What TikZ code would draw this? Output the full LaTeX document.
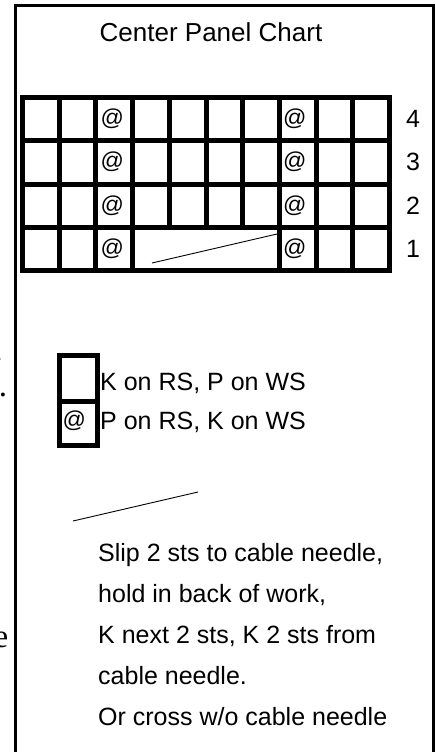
\documentclass[tikz,border=0pt]{standalone}
\usepackage{fontspec}
\setmainfont{Liberation Sans}
\newfontfamily\cutserif{Liberation Serif}
\usepackage{tikz}
\usetikzlibrary{positioning,calc}
\definecolor{ink}{HTML}{000000}

\begin{document}
\begin{tikzpicture}[x=1pt,y=-1pt,
    frame/.style={draw=ink, line width=3pt},
    gridline/.style={draw=ink, line width=5pt, line cap=rect},
    cable/.style={draw=ink, line width=0.9pt},
    chartfont/.style={font=\fontsize{25}{30}\selectfont, text=ink, inner sep=0pt},
    purlmark/.style={font=\fontsize{23}{23}\selectfont, text=ink, inner sep=0pt, anchor=west},
    cutfont/.style={font=\cutserif\fontsize{33}{33}\selectfont, text=ink, inner sep=0pt}]
  \useasboundingbox (0,0) rectangle (436,752);
  % outer frame
  \draw[frame] (15.5,752) -- (15.5,5.5) -- (433.8,5.5) -- (433.8,752);
  % bits of the next column
  \node[cutfont, anchor=base east] (cutT) at (1,360) {t};
  \node[cutfont, anchor=base] (cutDot) at (3,396) {.};
  \node[cutfont, anchor=base east] (cutE) at (8.5,647) {e};

  \node[chartfont, font=\fontsize{26}{30}\selectfont] (title) at (211,32) {Center Panel Chart};

  % chart grid
  \foreach \j in {0,...,4}
    \draw[gridline] (22.5,{97.5+43.25*\j}) -- (389.5,{97.5+43.25*\j});
  \foreach \i in {0,1,2,3,7,8,9,10}
    \draw[gridline] ({22.5+36.7*\i},97.5) -- ({22.5+36.7*\i},270.5);
  \foreach \i in {4,5,6}
    \draw[gridline] ({22.5+36.7*\i},97.5) -- ({22.5+36.7*\i},227.25);

  % purl marks and row numbers
  \foreach \r/\y in {4/119,3/162,2/206,1/249} {
    \node[purlmark] (pl\r) at (100.5,\y) {@};
    \node[purlmark] (pr\r) at (283,\y) {@};
    \node[chartfont] (row\r) at (413,\y) {\r};
  }
  \coordinate (cabA) at (152,263);
  \coordinate (cabB) at (277,234);
  \draw[cable] (cabA) -- (cabB);

  % key
  \draw[gridline] (59.5,355.5) rectangle (97.5,445.5);
  \draw[gridline] (59.5,401) -- (97.5,401);
  \node[purlmark] (keyAt) at (62.5,421) {@};
  \node[chartfont, anchor=west] (keyK) at (100,383) {K on RS, P on WS};
  \node[chartfont, anchor=west] (keyP) at (100,422) {P on RS, K on WS};

  \coordinate (keyCabA) at (73,521);
  \coordinate (keyCabB) at (198,492);
  \draw[cable] (keyCabA) -- (keyCabB);
  \node[chartfont, font=\fontsize{25}{41}\selectfont, anchor=north west, align=left] (howto) at (98,543) {%
    Slip 2 sts to cable needle,\\
    hold in back of work,\\
    K next 2 sts, K 2 sts from\\
    cable needle.\\
    Or cross w/o cable needle};
\end{tikzpicture}
\end{document}
